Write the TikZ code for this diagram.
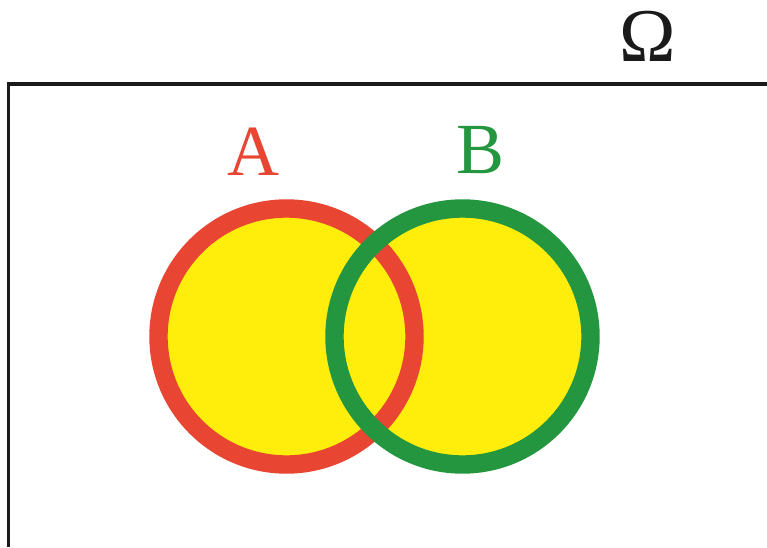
\documentclass[tikz,border=0pt]{standalone}
\usepackage{fontspec}
\setmainfont{Liberation Serif}
\definecolor{setred}{HTML}{E84532}
\definecolor{setgreen}{HTML}{23963F}
\definecolor{setyellow}{HTML}{FFED0C}
\definecolor{frame}{HTML}{1A1A1A}
\begin{document}
\begin{tikzpicture}[x=0.75pt,y=-0.75pt,
  setfill/.style={circle,minimum size=256*0.75pt,inner sep=0pt,fill=setyellow},
  setring/.style={circle,minimum size=256*0.75pt,inner sep=0pt,line width=13.8pt},
  setlabel/.style={font=\fontsize{54pt}{60pt}\selectfont,inner sep=0pt}]
\useasboundingbox (0,0) rectangle (767,547);
% universe frame (top and left edges)
\coordinate (tl) at (8.5,84);
\coordinate (tr) at (767,84);
\coordinate (bl) at (8.5,547);
\draw[frame,line width=2.3pt] (tr) -- (tl) -- (bl);
\node[inner sep=0pt,font=\fontsize{57pt}{64pt}\selectfont,text=frame] (omega) at (648,36) {Ω};
% fills
\node[setfill] (fa) at (286.5,336.5) {};
\node[setfill] (fb) at (462.5,336.5) {};
% rings
\node[setring,draw=setred] (A) at (286.5,336.5) {};
\node[setring,draw=setgreen] (B) at (462.5,336.5) {};
% labels
\node[setlabel,text=setred] (la) at (253,152) {A};
\node[setlabel,text=setgreen] (lb) at (481,150) {B};
\end{tikzpicture}
\end{document}
